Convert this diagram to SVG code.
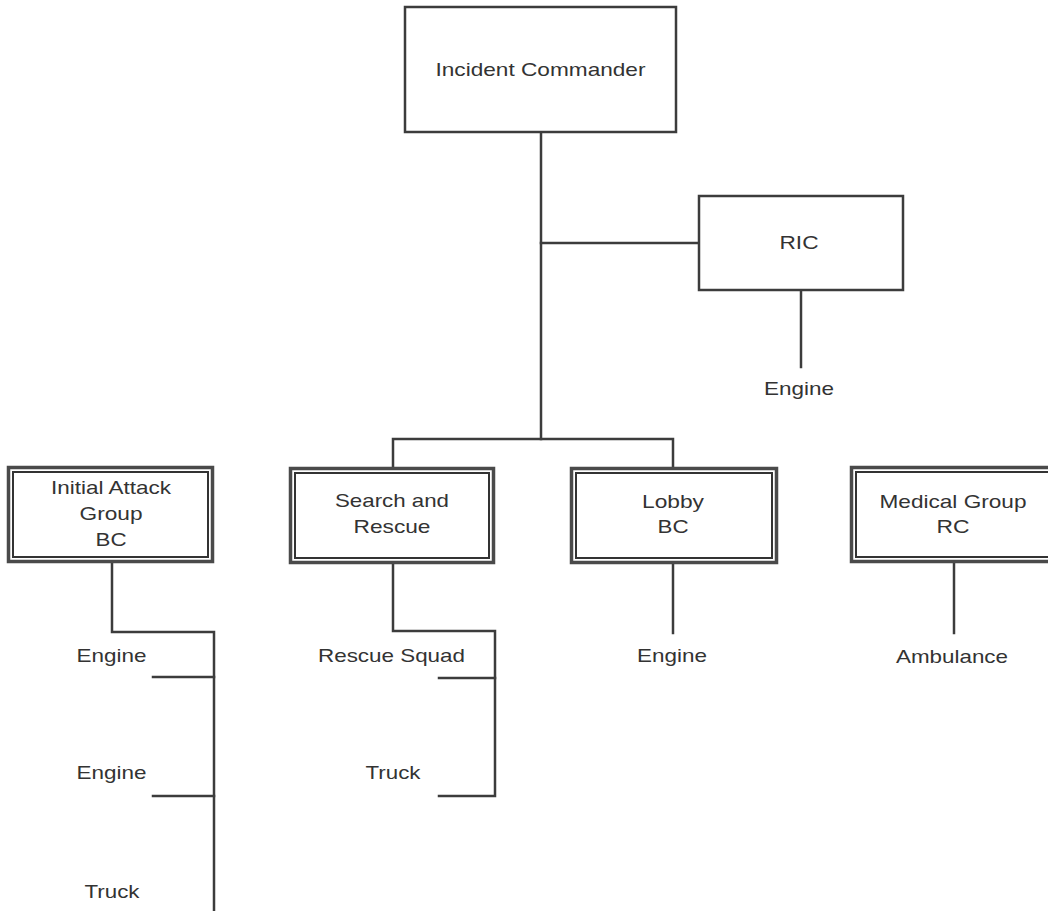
<svg xmlns="http://www.w3.org/2000/svg" width="1048" height="911" viewBox="0 0 1048 911">
<style>
.bg{fill:#ffffff}
.box{fill:#ffffff;stroke:#3c3c3c;stroke-width:2.5}
.outer{fill:#ffffff;stroke:#4a4a4a;stroke-width:3.5}
.inner{fill:#ffffff;stroke:#333333;stroke-width:2}
.ln{fill:none;stroke:#3c3c3c;stroke-width:2.5;stroke-linecap:square}
text{font-family:"Liberation Sans",Arial,sans-serif;font-size:19px;fill:#333333;text-anchor:middle}
</style>
<rect class="bg" x="0" y="0" width="1048" height="911"/>
<g id="connectors">
<path class="ln" d="M541,132 V439"/>
<path class="ln" d="M541,243 H699"/>
<path class="ln" d="M801,290 V367"/>
<path class="ln" d="M393,468 V439 H673 V468"/>
<path class="ln" d="M112,562 V632 H214 V911"/>
<path class="ln" d="M153,677 H214"/>
<path class="ln" d="M153,796 H214"/>
<path class="ln" d="M393,563 V631 H495 V796 H439"/>
<path class="ln" d="M439,678 H495"/>
<path class="ln" d="M673,563 V633"/>
<path class="ln" d="M954,562 V633"/>
</g>
<g id="incident-commander">
<rect class="box" x="405" y="7" width="271" height="125"/>
<text x="540.5" y="76" textLength="210" lengthAdjust="spacingAndGlyphs">Incident Commander</text>
</g>
<g id="ric">
<rect class="box" x="699" y="196" width="204" height="94"/>
<text x="799" y="249" textLength="39" lengthAdjust="spacingAndGlyphs">RIC</text>
</g>
<g id="ric-engine">
<text x="799" y="395" textLength="70" lengthAdjust="spacingAndGlyphs">Engine</text>
</g>
<g id="initial-attack">
<rect class="outer" x="8.5" y="467.5" width="204" height="94"/>
<rect class="inner" x="13" y="472" width="195" height="85"/>
<text x="111" y="494" textLength="120" lengthAdjust="spacingAndGlyphs">Initial Attack</text>
<text x="111" y="520" textLength="63" lengthAdjust="spacingAndGlyphs">Group</text>
<text x="111" y="546" textLength="31" lengthAdjust="spacingAndGlyphs">BC</text>
</g>
<g id="search-rescue">
<rect class="outer" x="290.5" y="468.5" width="203" height="94"/>
<rect class="inner" x="295" y="473" width="194" height="85"/>
<text x="392" y="507" textLength="114" lengthAdjust="spacingAndGlyphs">Search and</text>
<text x="392" y="533" textLength="77" lengthAdjust="spacingAndGlyphs">Rescue</text>
</g>
<g id="lobby">
<rect class="outer" x="571.5" y="468.5" width="205" height="94"/>
<rect class="inner" x="576" y="473" width="196" height="85"/>
<text x="673" y="508" textLength="62" lengthAdjust="spacingAndGlyphs">Lobby</text>
<text x="673" y="533" textLength="31" lengthAdjust="spacingAndGlyphs">BC</text>
</g>
<g id="medical-group">
<rect class="outer" x="851.5" y="467.5" width="204" height="94"/>
<rect class="inner" x="856" y="472" width="195" height="85"/>
<text x="953" y="508" textLength="147" lengthAdjust="spacingAndGlyphs">Medical Group</text>
<text x="953" y="533" textLength="33" lengthAdjust="spacingAndGlyphs">RC</text>
</g>
<g id="ia-engine-1"><text x="111.5" y="662" textLength="70" lengthAdjust="spacingAndGlyphs">Engine</text></g>
<g id="ia-engine-2"><text x="111.5" y="779" textLength="70" lengthAdjust="spacingAndGlyphs">Engine</text></g>
<g id="ia-truck"><text x="112" y="898" textLength="55" lengthAdjust="spacingAndGlyphs">Truck</text></g>
<g id="sr-rescue-squad"><text x="391.5" y="662" textLength="147" lengthAdjust="spacingAndGlyphs">Rescue Squad</text></g>
<g id="sr-truck"><text x="393" y="779" textLength="55" lengthAdjust="spacingAndGlyphs">Truck</text></g>
<g id="lobby-engine"><text x="672" y="662" textLength="70" lengthAdjust="spacingAndGlyphs">Engine</text></g>
<g id="ambulance"><text x="952" y="663" textLength="112" lengthAdjust="spacingAndGlyphs">Ambulance</text></g>
</svg>
